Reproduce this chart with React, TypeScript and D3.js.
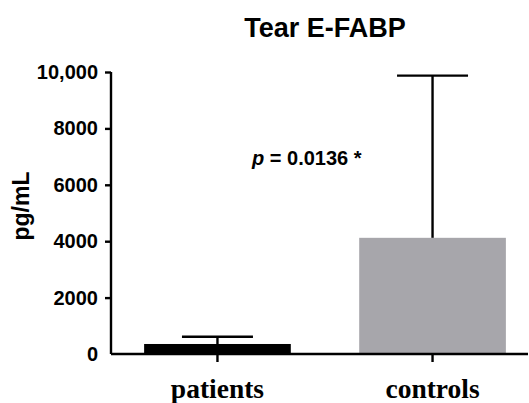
import { useEffect, useRef } from "react";
import { select, scaleLinear, scaleBand, axisLeft, axisBottom, format } from "d3";

const groups = ["patients", "controls"];
const means = [355, 4120];
const upperErrors = [610, 9870];
const barColors = ["#000000", "#a7a6ab"];
const yTicks = [0, 2000, 4000, 6000, 8000, 10000];

const W = 529;
const H = 403;
const margin = { top: 72, right: 1, bottom: 49, left: 111 };

export default function App() {
  const svgRef = useRef<SVGSVGElement>(null);

  useEffect(() => {
    const width = W - margin.left - margin.right;
    const height = H - margin.top - margin.bottom;

    const svgEl = select(svgRef.current);
    svgEl.selectAll("*").remove();
    const svg = svgEl.append("g").attr("transform", `translate(${margin.left},${margin.top})`);

    const yScale = scaleLinear().domain([0, 10000]).range([height, 0]);
    const x = scaleBand().domain(groups).range([0, 428]).paddingInner(0.318).paddingOuter(0.154);

    // bars
    svg.selectAll(".bar")
      .data(groups)
      .enter()
      .append("rect")
      .attr("x", (d) => x(d)!)
      .attr("width", x.bandwidth())
      .attr("y", (d, i) => yScale(means[i]))
      .attr("height", (d, i) => height - yScale(means[i]))
      .attr("fill", (d, i) => barColors[i]);

    // error bars (upper only)
    const capHalf = 35.5;
    groups.forEach((g, i) => {
      const cx = x(g)! + x.bandwidth() / 2;
      svg.append("line")
        .attr("x1", cx).attr("x2", cx)
        .attr("y1", yScale(means[i])).attr("y2", yScale(upperErrors[i]))
        .attr("stroke", "#000").attr("stroke-width", 2.4);
      svg.append("line")
        .attr("x1", cx - capHalf).attr("x2", cx + capHalf)
        .attr("y1", yScale(upperErrors[i])).attr("y2", yScale(upperErrors[i]))
        .attr("stroke", "#000").attr("stroke-width", 2.4);
    });

    // y axis
    const yAxis = axisLeft(yScale)
      .tickValues(yTicks)
      .tickSize(6)
      .tickPadding(7)
      .tickFormat((v) => (+v === 10000 ? format(",")(+v) : String(v)));
    const yg = svg.append("g").call(yAxis);
    yg.select(".domain").attr("stroke-width", 2.4).attr("d", `M0,${height}V0`);
    yg.selectAll("line").attr("stroke-width", 2.4);
    yg.selectAll(".tick").filter((d) => d === 0).select("line").remove();
    yg.selectAll("text")
      .attr("font-family", "Liberation Sans, Arial, sans-serif")
      .attr("font-weight", "bold")
      .attr("font-size", 20)
      .attr("fill", "#000");

    // x axis
    const xAxis = axisBottom(x).tickSize(8).tickPadding(16);
    const xg = svg.append("g").attr("transform", `translate(0,${height})`).call(xAxis);
    xg.select(".domain").attr("stroke-width", 2.4).attr("d", `M0,0H${width}`);
    xg.selectAll("line").attr("stroke-width", 2.4);
    xg.selectAll("text")
      .attr("font-family", "Liberation Serif, Times New Roman, serif")
      .attr("font-weight", "bold")
      .attr("font-size", 27.5)
      .attr("fill", "#000");

    // y label
    svgEl.append("text")
      .attr("transform", `translate(29,206) rotate(-90)`)
      .attr("text-anchor", "middle")
      .attr("font-family", "Liberation Sans, Arial, sans-serif")
      .attr("font-weight", "bold")
      .attr("font-size", 23)
      .text("pg/mL");

    // title
    svgEl.append("text")
      .attr("x", 325)
      .attr("y", 37)
      .attr("text-anchor", "middle")
      .attr("font-family", "Liberation Sans, Arial, sans-serif")
      .attr("font-weight", "bold")
      .attr("font-size", 27)
      .text("Tear E-FABP");

    // p-value annotation
    const p = svgEl.append("text")
      .attr("x", 252)
      .attr("y", 165)
      .attr("font-family", "Liberation Sans, Arial, sans-serif")
      .attr("font-weight", "bold")
      .attr("font-size", 20);
    p.append("tspan").attr("font-style", "italic").text("p");
    p.append("tspan").text(" = 0.0136 *");
  }, []);

  return (
    <svg
      ref={svgRef}
      width={W}
      height={H}
      viewBox={`0 0 ${W} ${H}`}
      style={{ position: "absolute", left: 0, top: 0, background: "#fff" }}
    />
  );
}
